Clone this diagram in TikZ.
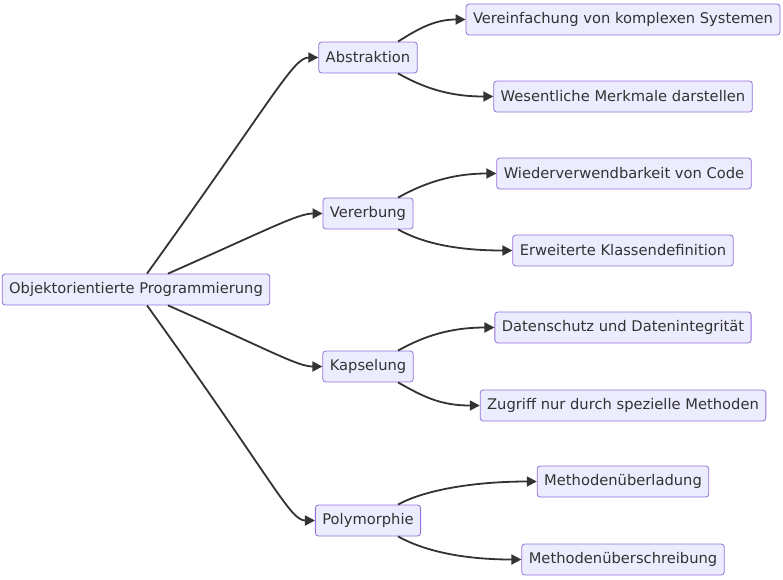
\documentclass[tikz,border=0pt]{standalone}
\usepackage{fontspec}
\setmainfont{DejaVu Sans}
\usepackage{tikz}
\usetikzlibrary{arrows.meta}

\definecolor{boxfill}{HTML}{ECECFF}
\definecolor{boxline}{HTML}{9370DB}
\definecolor{edgecol}{HTML}{333333}

\tikzset{
	box/.style={draw=boxline, fill=boxfill, rounded corners=3pt, line width=0.8pt,
		minimum height=31pt, inner xsep=7pt, text=edgecol,
		font=\fontsize{14.7}{17}\selectfont},
	edge/.style={draw=edgecol, line width=1.8pt, -{Triangle[length=10pt,width=10pt]}}
}

\begin{document}
\begin{tikzpicture}[x=1pt, y=-1pt]
		\useasboundingbox (0,0) rectangle (783,579);
		
		\node[box] (v1) at (136, 289.5) {Objektorientierte Programmierung};
		
		\node[box] (v2) at (368,  57.5) {Abstraktion};
		\node[box] (v3) at (368, 213.5) {Vererbung};
		\node[box] (v4) at (368, 366.5) {Kapselung};
		\node[box] (v5) at (368, 520.5) {Polymorphie};
		
		\node[box] (v6)  at (623,  19.5) {Vereinfachung von komplexen Systemen};
		\node[box] (v7)  at (623,  96.5) {Wesentliche Merkmale darstellen};
		\node[box] (v8)  at (624, 173.5) {Wiederverwendbarkeit von Code};
		\node[box] (v9)  at (623, 250.5) {Erweiterte Klassendefinition};
		\node[box] (v10) at (623, 327.5) {Datenschutz und Datenintegrität};
		\node[box] (v11) at (623, 405.5) {Zugriff nur durch spezielle Methoden};
		\node[box] (v12) at (623, 481.5) {Methodenüberladung};
		\node[box] (v13) at (623, 559.5) {Methodenüberschreibung};

		\draw[edge] ([xshift=11pt]v1.north) .. controls +(128,-178) and +(-25,0) .. (v2.west);
		\draw[edge] ([xshift=32pt]v1.north) .. controls +(100,-44) and +(-25,0) .. (v3.west);
		\draw[edge] ([xshift=32pt]v1.south) .. controls +(100,44) and +(-25,0) .. (v4.west);
		\draw[edge] ([xshift=11pt]v1.south) .. controls +(128,178) and +(-25,0) .. (v5.west);
		
		\draw[edge] ([xshift=30pt]v2.north) .. controls +(22,-14) and +(-30,0) .. (v6.west);
		\draw[edge] ([xshift=30pt]v2.south) .. controls +(25,14) and +(-45,0) .. (v7.west);
		
		\draw[edge] ([xshift=30pt]v3.north) .. controls +(25,-14) and +(-45,0) .. (v8.west);
		\draw[edge] ([xshift=30pt]v3.south) .. controls +(25,14) and +(-55,0) .. (v9.west);
		
		\draw[edge] ([xshift=30pt]v4.north) .. controls +(25,-14) and +(-45,0) .. (v10.west);
		\draw[edge] ([xshift=30pt]v4.south) .. controls +(25,14) and +(-40,0) .. (v11.west);
		
		\draw[edge] ([xshift=30pt]v5.north) .. controls +(25,-14) and +(-65,0) .. (v12.west);
		\draw[edge] ([xshift=30pt]v5.south) .. controls +(25,14) and +(-60,0) .. (v13.west);
		
	\end{tikzpicture}
\end{document}
